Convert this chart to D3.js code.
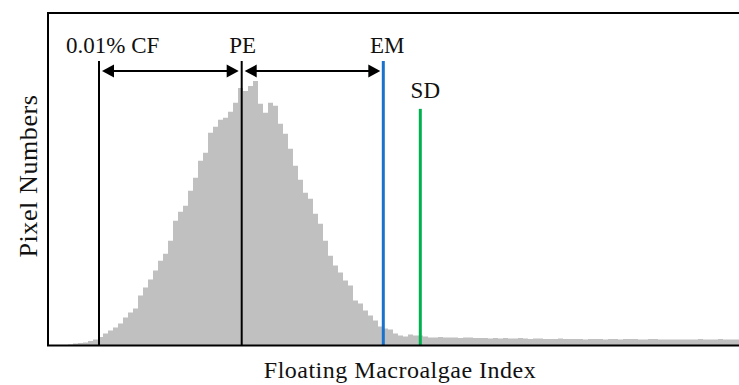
<!DOCTYPE html>
<html>
<head>
<meta charset="utf-8">
<script src="https://cdn.jsdelivr.net/npm/d3@7"></script>
<style>
  html, body { margin: 0; padding: 0; background: #fff; }
  svg { display: block; }
  text { font-family: "Liberation Serif", "Times New Roman", serif; fill: #111; }
</style>
</head>
<body>
<svg id="chart" width="739" height="385"></svg>
<script>
// ---- data (histogram of Floating Macroalgae Index, arbitrary bin index units) ----
const binStart = 3;               // index of first non-empty bin
const pixelCounts = [
  0.5, 1, 2, 2.5, 3, 4.5, 6, 8.5, 12, 15, 18, 22, 28, 33, 37, 50, 58, 66, 75, 85,
  92, 105, 125, 134, 140, 155, 168, 185, 193, 213, 219, 226, 228, 234, 243, 258,
  255, 260, 265, 242, 233, 243, 240, 222, 212, 197, 180, 166, 153, 147, 132, 122,
  105, 90, 80, 73, 65, 60, 45, 42, 35, 30, 25, 19, 17, 16, 12, 10, 9, 11, 10, 10,
  9, 8, 8, 8.5, 8, 8, 8, 7.5, 8, 8, 7.5, 7.5, 7.5, 7, 7.5, 7, 7.5, 7, 7, 7.5,
  7, 6.5, 7, 7, 6.5, 6.5, 6.5, 7, 6.5, 6.5, 6.5, 6.5, 6, 6.5, 6.5, 6.5, 6, 6.5,
  6.5, 6, 6.5, 6.5, 6.5, 6, 6, 6.5, 6.5, 6, 6, 6, 6, 6, 6, 6,
  6, 6.5, 6, 6, 6, 6.5, 6, 6, 6, 6, 6
];
const thresholdNames = ["0.01% CF", "PE", "EM", "SD"];
const thresholdValues = [10.2, 38.74, 67.06, 74.46];
const thresholdColors = ["#000000", "#000000", "#1a72cc", "#00b050"];
const thresholdTops = [285, 285, 285, 237];   // line heights in pixel-count units
const xTitle = "Floating Macroalgae Index";
const yTitle = "Pixel Numbers";

// ---- layout ----
const svg = d3.select("#chart");
const mLeft = 48, mRight = 748, mTop = 13, mBottom = 345.5;
const x = d3.scaleLinear().domain([0, 140]).range([mLeft, mRight]);
const y = d3.scaleLinear().domain([0, 333]).range([mBottom, mTop]);

// histogram as step area
const pts = pixelCounts.map((v, i) => [binStart + i, v]);
pts.push([binStart + pixelCounts.length, pixelCounts[pixelCounts.length - 1]]);
const area = d3.area()
  .x(d => x(d[0]))
  .y0(y(0))
  .y1(d => y(d[1]))
  .curve(d3.curveStepAfter);
svg.append("path").datum(pts)
  .attr("d", area)
  .attr("fill", "#c0c0c0");

// threshold lines
thresholdValues.forEach((v, i) => {
  svg.append("line")
    .attr("x1", x(v)).attr("x2", x(v))
    .attr("y1", y(0)).attr("y2", y(thresholdTops[i]))
    .attr("stroke", thresholdColors[i])
    .attr("stroke-width", i >= 2 ? 3 : 2);
});

// arrows between CF-PE and PE-EM
const arrowY = 71;
function arrow(xa, xb) {
  const g = svg.append("g");
  const gap = 3, hl = 12, hw = 6.5;
  const a = xa + gap, b = xb - gap;
  g.append("line").attr("x1", a + hl - 1).attr("x2", b - hl + 1)
    .attr("y1", arrowY).attr("y2", arrowY)
    .attr("stroke", "#000").attr("stroke-width", 2);
  g.append("path").attr("d", `M${a},${arrowY} L${a + hl},${arrowY - hw} L${a + hl},${arrowY + hw} Z`).attr("fill", "#000");
  g.append("path").attr("d", `M${b},${arrowY} L${b - hl},${arrowY - hw} L${b - hl},${arrowY + hw} Z`).attr("fill", "#000");
}
arrow(x(thresholdValues[0]), x(thresholdValues[1]));
arrow(x(thresholdValues[1]), x(thresholdValues[2]));

// labels
const fs = 23;
const labelPos = [
  { dx: -33, y: 53, anchor: "start" },
  { dx: 1, y: 53, anchor: "middle" },
  { dx: 4, y: 53, anchor: "middle" },
  { dx: 5, y: 98, anchor: "middle" }
];
thresholdNames.forEach((t, i) => {
  svg.append("text")
    .attr("x", x(thresholdValues[i]) + labelPos[i].dx)
    .attr("y", labelPos[i].y)
    .attr("text-anchor", labelPos[i].anchor)
    .attr("font-size", fs)
    .text(t);
});

// frame
svg.append("rect")
  .attr("x", mLeft).attr("y", mTop)
  .attr("width", mRight - mLeft).attr("height", mBottom - mTop)
  .attr("fill", "none").attr("stroke", "#000").attr("stroke-width", 2);

// axis titles
svg.append("text")
  .attr("x", 400).attr("y", 378)
  .attr("text-anchor", "middle")
  .attr("font-size", 24)
  .attr("letter-spacing", 0.5)
  .text(xTitle);
svg.append("text")
  .attr("transform", `translate(37, 176) rotate(-90)`)
  .attr("text-anchor", "middle")
  .attr("font-size", 26)
  .attr("letter-spacing", 0.6)
  .text(yTitle);
</script>
</body>
</html>
